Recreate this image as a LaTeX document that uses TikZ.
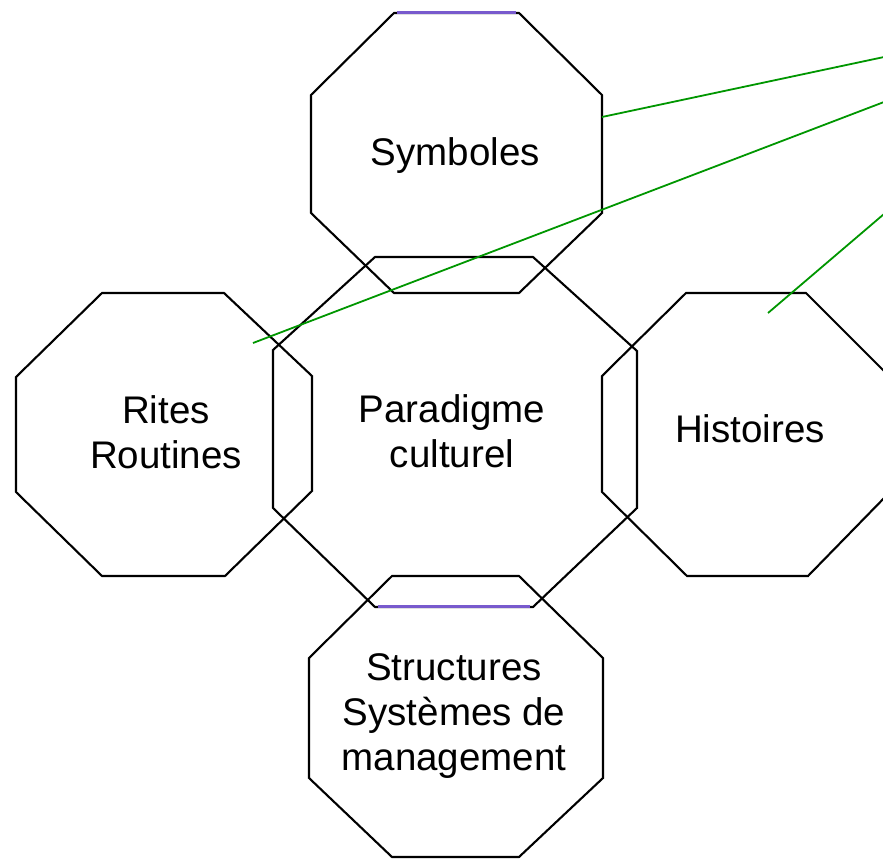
\documentclass[tikz,border=0pt]{standalone}
\usepackage{fontspec}
\setmainfont{Liberation Sans}
\definecolor{leadgreen}{RGB}{0,150,0}
\definecolor{edgepurple}{RGB}{120,90,205}
\begin{document}
\begin{tikzpicture}[x=1pt,y=-1pt,
  octo/.style={draw=black,line width=2.1pt,line join=miter},
  purpleedge/.style={draw=edgepurple,line width=3pt},
  lbl/.style={anchor=base,inner sep=0pt,font=\fontsize{38.5}{45}\selectfont},
  leader/.style={draw=leadgreen,line width=1.8pt}]
\path[use as bounding box] (0,0) rectangle (883,859);
\clip (0,0) rectangle (883,859);
% octagons
\draw[octo] (394,13) -- (519,13) -- (602,95) -- (602,213) -- (519,293) -- (394,293) -- (311,213) -- (311,95) -- cycle;
\draw[purpleedge] (397,13) -- (516,13);
\draw[octo] (375,257) -- (533,257) -- (637,351) -- (637,508) -- (533,607) -- (375,607) -- (273,508) -- (273,350) -- cycle;
\draw[purpleedge] (378,606) -- (530,606);
\draw[octo] (102,293) -- (224,293) -- (312,376) -- (312,491) -- (225,576) -- (102,576) -- (16,492) -- (16,377) -- cycle;
\draw[octo] (686,293) -- (806,293) -- (890,377) -- (890,492) -- (808,576) -- (687,576) -- (602,492) -- (602,376) -- cycle;
\draw[octo] (392,576) -- (519,576) -- (603,658) -- (603,778) -- (519,857) -- (392,857) -- (309,778) -- (309,658) -- cycle;
% labels
\node[lbl] (sym) at (455.5,165) {\begin{tabular}[t]{@{}c@{}}Symboles\end{tabular}};
\node[lbl] (rites) at (166,423) {\begin{tabular}[t]{@{}c@{}}Rites\\Routines\end{tabular}};
\node[lbl] (para) at (452,422) {\begin{tabular}[t]{@{}c@{}}Paradigme\\culturel\end{tabular}};
\node[lbl] (hist) at (750,442) {\begin{tabular}[t]{@{}c@{}}Histoires\end{tabular}};
\node[lbl] (struct) at (454,680) {\begin{tabular}[t]{@{}c@{}}Structures\\Systèmes de\\management\end{tabular}};
% leader lines
\coordinate (a1) at (602,117);
\coordinate (e1) at (884,57);
\coordinate (a2) at (253,343);
\coordinate (e2) at (884,102);
\coordinate (a3) at (768,313);
\coordinate (e3) at (884,214);
\draw[leader] (a1) -- (e1);
\draw[leader] (a2) -- (e2);
\draw[leader] (a3) -- (e3);
\end{tikzpicture}
\end{document}
